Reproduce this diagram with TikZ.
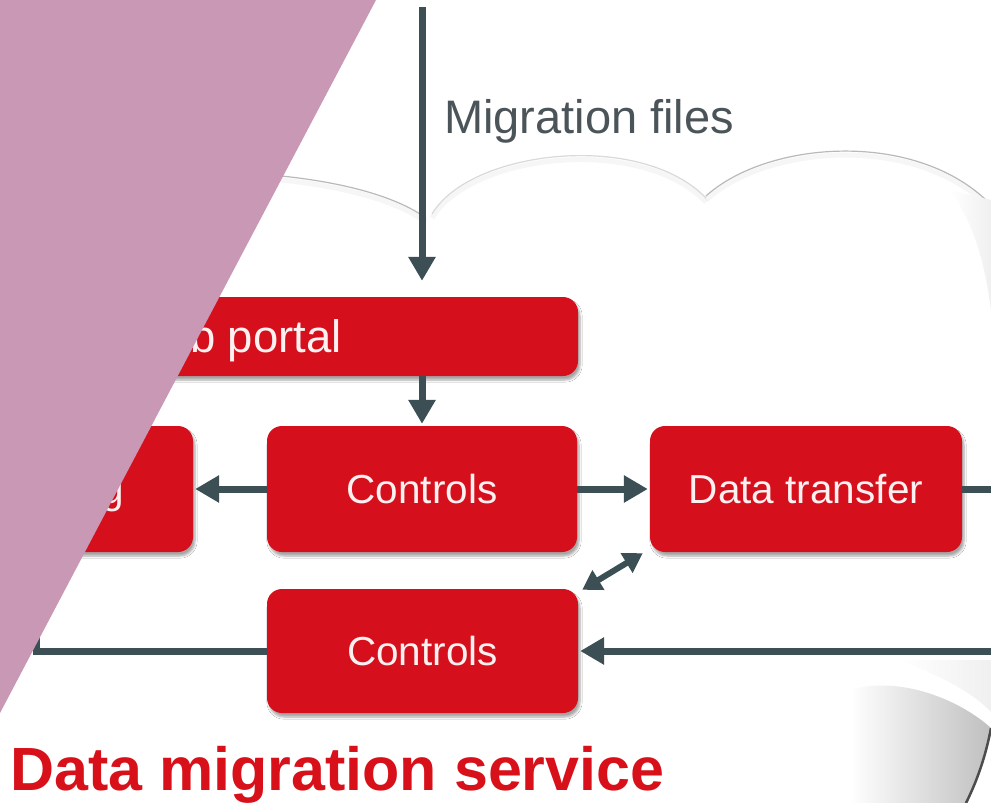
\documentclass[tikz,border=0pt]{standalone}
\usepackage{fontspec}
\setmainfont{Liberation Sans}
\usetikzlibrary{arrows.meta,shadows.blur}
\definecolor{pinkc}{HTML}{C898B5}
\definecolor{boxred}{HTML}{D5101C}
\definecolor{arrowc}{HTML}{3B4F55}
\definecolor{labelc}{HTML}{4A5459}
\definecolor{titlec}{HTML}{D8101A}
\definecolor{boxtext}{HTML}{FCF0F0}
\begin{document}
\begin{tikzpicture}[x=1pt,y=-1pt,
  box/.style={fill=boxred, rounded corners=15pt, inner sep=0pt,
    blur shadow={shadow xshift=2pt, shadow yshift=-4pt, shadow blur steps=6, shadow opacity=35},
    text=boxtext, font=\fontsize{40.5}{48}\selectfont},
  boxlabel/.style={text=boxtext, font=\fontsize{40.5}{48}\selectfont, inner sep=0pt},
  wire/.style={draw=arrowc, line width=7pt},
  conn/.style={wire, -{Triangle[length=24pt,width=26pt]}},
  dbl/.style={draw=arrowc, line width=6pt, {Triangle[length=19pt,width=22pt]}-{Triangle[length=19pt,width=22pt]}},
  cloudline/.style={draw=gray!55, line width=1.2pt},
  cloudsoft/.style={draw=gray, line width=5pt, opacity=0.07}
]
\useasboundingbox (0,0) rectangle (991,803);
\fill[white] (0,0) rectangle (991,803);

% cloud outline
\draw[cloudsoft] (150,176) .. controls (280,172) and (380,189) .. (426,222);
\draw[cloudsoft] (432,218) .. controls (470,154) and (640,134) .. (706,202);
\draw[cloudsoft] (706,200) .. controls (770,142) and (930,132) .. (1000,219);
\draw[cloudline] (150,172) .. controls (280,168) and (380,185) .. (426,218);
\draw[cloudline, draw=gray!30] (432,214) .. controls (470,150) and (640,130) .. (706,198);
\draw[cloudline] (706,196) .. controls (770,138) and (930,128) .. (1000,215);
\shade[left color=white, right color=gray!12] (950,190) .. controls (975,225) and (985,265) .. (991,310) -- (991,200) -- cycle;
% bottom right bump
\begin{scope}
  \clip (850,803) -- (850,690) .. controls (900,675) and (960,700) .. (991,728)
        .. controls (985,760) and (975,785) .. (966,803) -- cycle;
  \shade[left color=white, right color=gray!50] (850,660) rectangle (991,803);
\end{scope}
\draw[gray!60!black, line width=2.5pt] (991,728) .. controls (985,760) and (975,785) .. (966,803);
\shade[left color=white, right color=gray!12] (900,660) .. controls (950,680) and (975,695) .. (991,712) -- (991,660) -- cycle;

% boxes
\node[box, minimum width=518pt, minimum height=79pt] (portal) at (319,336.5) {};
\node[box, minimum width=163pt, minimum height=126pt] (logbox) at (111.5,489) {};
\node[box, minimum width=310pt, minimum height=126pt] (c1) at (422,489) {Controls};
\node[box, minimum width=312pt, minimum height=126pt] (dt) at (806,489) {Data transfer};
\node[box, minimum width=311pt, minimum height=124pt] (c2) at (422.5,651) {Controls};
\node[boxlabel, anchor=base east, font=\fontsize{45.5}{54}\selectfont] (portaltext) at (342,352) {Web portal};
\node[boxlabel, anchor=base east] (logtext) at (124,503) {Billing};

% connectors
\coordinate (src) at (422,7);
\draw[conn, shorten >=16pt] (src) -- (src |- portal.north);
\draw[conn, shorten >=2pt] (c1.north |- portal.south) -- (c1.north);
\draw[conn, shorten >=2pt] (c1.west) -- (logbox.east);
\draw[conn, shorten >=2pt] (c1.east) -- (dt.west);
\coordinate (outR) at (995,489);
\draw[wire] (dt.east) -- (outR);
\coordinate (cornerL) at (36,651);
\coordinate (upL) at (36,420);
\draw[wire, line join=miter] (c2.west) -- (cornerL) -- (upL);
\coordinate (inR) at (995,651);
\draw[conn, shorten >=2pt] (inR) -- (c2.east);
\draw[dbl] ([shift={(4,1)}]c2.north east) -- ([shift={(-7,1)}]dt.south west);

% labels
\node[anchor=base west, inner sep=0pt, text=labelc, font=\fontsize{47}{56}\selectfont] (mlabel) at (444,133) {Migration files};
\node[anchor=base west, inner sep=0pt, text=titlec, font=\bfseries\fontsize{61}{72}\selectfont] (title) at (10,790) {Data migration service};

% pink overlay
\fill[pinkc] (0,0) -- (376,0) -- (0,713) -- cycle;
\end{tikzpicture}
\end{document}
